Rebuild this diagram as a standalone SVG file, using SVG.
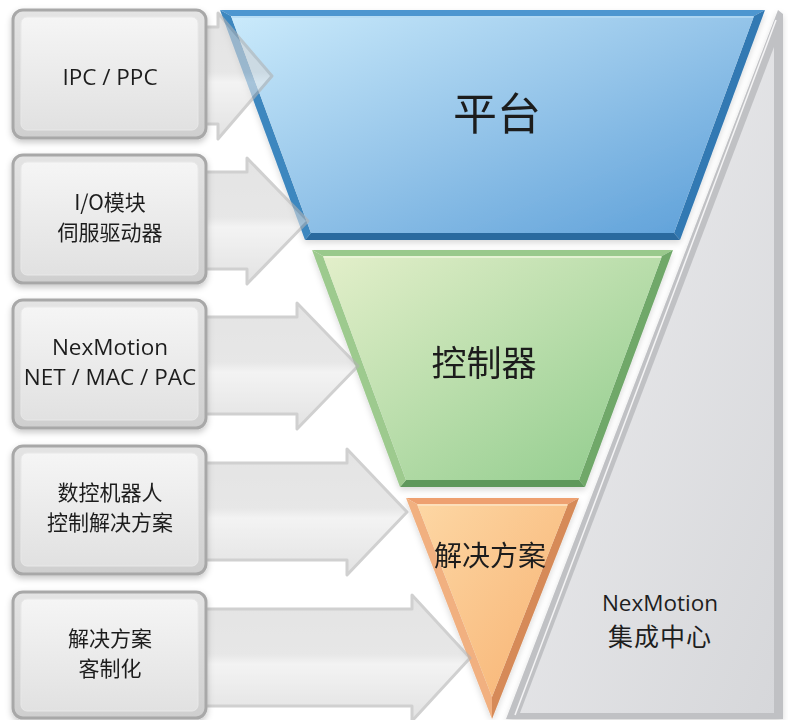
<svg xmlns="http://www.w3.org/2000/svg" width="788" height="720" viewBox="0 0 788 720">
<defs>
<linearGradient id="gBlue" x1="0" y1="0" x2="1" y2="1"><stop offset="0" stop-color="#caeafb"/><stop offset="0.5" stop-color="#94c4e9"/><stop offset="1" stop-color="#5a9ed8"/></linearGradient>
<linearGradient id="gGreen" x1="0" y1="0" x2="1" y2="1"><stop offset="0" stop-color="#e3efca"/><stop offset="1" stop-color="#8ecb8b"/></linearGradient>
<linearGradient id="gOrange" x1="0" y1="0" x2="1" y2="1"><stop offset="0" stop-color="#fdd7a4"/><stop offset="1" stop-color="#f7b272"/></linearGradient>
<linearGradient id="gPanel" x1="0" y1="0" x2="1" y2="1"><stop offset="0" stop-color="#eeeef0"/><stop offset="1" stop-color="#d6d7da"/></linearGradient>
<linearGradient id="gBoxOuter" x1="0" y1="0" x2="0" y2="1"><stop offset="0" stop-color="#e4e4e4"/><stop offset="1" stop-color="#cfcfcf"/></linearGradient>
<linearGradient id="gBoxInner" x1="0" y1="0" x2="0" y2="1"><stop offset="0" stop-color="#f5f5f5"/><stop offset="1" stop-color="#e1e1e1"/></linearGradient>
<linearGradient id="gArrow" x1="0" y1="0" x2="0" y2="1"><stop offset="0" stop-color="#d2d2d2"/><stop offset="0.47" stop-color="#d8d8d8"/><stop offset="0.55" stop-color="#ececec"/><stop offset="1" stop-color="#d0d0d0"/></linearGradient>
<filter id="shadow" x="-10%" y="-10%" width="120%" height="125%"><feDropShadow dx="0" dy="3" stdDeviation="3" flood-color="#000" flood-opacity="0.22"/></filter>
<filter id="soft" x="-10%" y="-10%" width="120%" height="120%"><feDropShadow dx="0" dy="3" stdDeviation="3" flood-color="#000" flood-opacity="0.15"/></filter>
</defs>
<style>
.lat{font-family:"Open Sans","DejaVu Sans",sans-serif;font-size:22.5px;fill:#1e1e1e;text-anchor:middle}
.cjk{font-family:"Noto Sans CJK SC","Noto Sans",sans-serif;font-size:21px;fill:#1e1e1e;text-anchor:middle}
.boxo{fill:url(#gBoxOuter);stroke:#a8a8a8;stroke-width:3}
.boxi{fill:url(#gBoxInner);stroke:#e8e8e8;stroke-width:1}
.arrow{fill:url(#gArrow);stroke:#b2b2b2;stroke-width:3;stroke-linejoin:round;opacity:0.6}
</style>
<rect width="788" height="720" fill="#ffffff"/>

<g id="panel-center">
<polygon points="778,10 783,14 783,719 506,719" fill="#c0c1c4" filter="url(#soft)"/>
<polygon points="774,47 774,713 520,713" fill="url(#gPanel)"/>
<line x1="776" y1="20" x2="515" y2="715" stroke="#f4f4f5" stroke-width="1.5"/>
<text class="lat" x="660" y="611">NexMotion</text>
<text class="cjk" x="660" y="646" style="font-size:25px;letter-spacing:1px">集成中心</text>
</g>

<g id="funnel-platform" filter="url(#soft)">
<polygon points="220,10 765,10 754,16 231,16" fill="#4d96d0"/>
<polygon points="765,10 680,240 674,233 754,16" fill="#3379b3"/>
<polygon points="680,240 305,240 311,233 674,233" fill="#2a6a9f"/>
<polygon points="305,240 220,10 231,16 311,233" fill="#3e87bf"/>
<polygon points="231,16 754,16 674,233 311,233" fill="url(#gBlue)"/>
<line x1="232" y1="17" x2="753" y2="17" stroke="#b3daf3" stroke-width="1.5"/>
<text class="cjk" x="497" y="130" style="font-size:44px">平台</text>
</g>

<g id="funnel-controller" filter="url(#soft)">
<polygon points="312,250 673,250 662,256 323,256" fill="#99c98c"/>
<polygon points="673,250 585,487 579,480 662,256" fill="#6fa869"/>
<polygon points="585,487 400,487 406,480 579,480" fill="#5f985b"/>
<polygon points="400,487 312,250 323,256 406,480" fill="#9dca8e"/>
<polygon points="323,256 662,256 579,480 406,480" fill="url(#gGreen)"/>
<line x1="324" y1="257" x2="661" y2="257" stroke="#eef6dd" stroke-width="1.5"/>
<text class="cjk" x="484" y="376" style="font-size:35px">控制器</text>
</g>

<g id="funnel-solution" filter="url(#soft)">
<polygon points="406,498 579,498 568,504 417,504" fill="#eea070"/>
<polygon points="579,498 492,719 492,697 568,504" fill="#d68a58"/>
<polygon points="492,719 406,498 417,504 492,697" fill="#f1b080"/>
<polygon points="417,504 568,504 492,697" fill="url(#gOrange)"/>
<line x1="418" y1="505" x2="567" y2="505" stroke="#fde3c4" stroke-width="1.5"/>
<text class="cjk" x="490" y="566" style="font-size:28px">解决方案</text>
</g>

<g id="connectors">
<polygon class="arrow" points="195,27 218,27 218,13 272,76 218,139 218,124 195,124"/>
<polygon class="arrow" points="195,172 247,172 247,158 308,221 247,284 247,269 195,269"/>
<polygon class="arrow" points="195,317 297,317 297,303 358,366 297,429 297,414 195,414"/>
<polygon class="arrow" points="195,463 347,463 347,449 407,512 347,575 347,560 195,560"/>
<polygon class="arrow" points="195,609 412,609 412,595 470,658 412,721 412,706 195,706"/>
</g>

<g id="box-ipc" filter="url(#shadow)">
<rect class="boxo" x="13" y="10" width="193" height="128" rx="10"/>
<rect class="boxi" x="21" y="17" width="177" height="113" rx="6"/>
<text class="lat" x="110" y="85">IPC / PPC</text>
</g>
<g id="box-io" filter="url(#shadow)">
<rect class="boxo" x="13" y="155" width="193" height="128" rx="10"/>
<rect class="boxi" x="21" y="162" width="177" height="113" rx="6"/>
<text class="cjk" x="110" y="210">I/O模块</text>
<text class="cjk" x="110" y="240">伺服驱动器</text>
</g>
<g id="box-nexmotion" filter="url(#shadow)">
<rect class="boxo" x="13" y="300" width="193" height="128" rx="10"/>
<rect class="boxi" x="21" y="307" width="177" height="113" rx="6"/>
<text class="lat" x="110" y="355">NexMotion</text>
<text class="lat" x="110" y="385">NET / MAC / PAC</text>
</g>
<g id="box-nc" filter="url(#shadow)">
<rect class="boxo" x="13" y="446" width="193" height="128" rx="10"/>
<rect class="boxi" x="21" y="453" width="177" height="113" rx="6"/>
<text class="cjk" x="110" y="500">数控机器人</text>
<text class="cjk" x="110" y="530">控制解决方案</text>
</g>
<g id="box-custom" filter="url(#shadow)">
<rect class="boxo" x="13" y="592" width="193" height="126" rx="10"/>
<rect class="boxi" x="21" y="599" width="177" height="112" rx="6"/>
<text class="cjk" x="110" y="646">解决方案</text>
<text class="cjk" x="110" y="676">客制化</text>
</g>
</svg>
